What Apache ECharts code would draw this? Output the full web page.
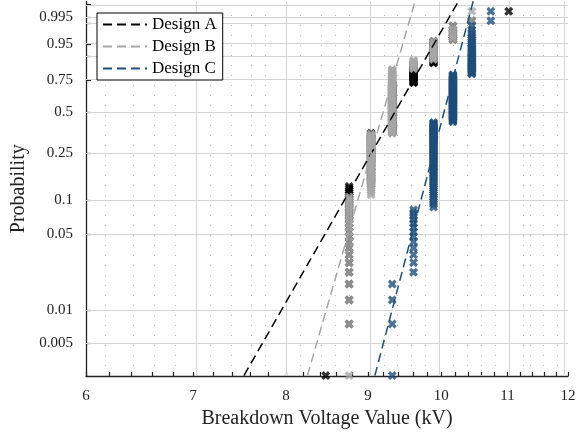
<!DOCTYPE html>
<html>
<head>
<meta charset="utf-8">
<script src="https://cdn.jsdelivr.net/npm/echarts@6/dist/echarts.min.js"></script>
<style>html,body{margin:0;padding:0;background:#fff}#c{width:587px;height:434px}</style>
</head>
<body>
<div id="c"></div>
<script>
// ---- data ----
// breakdown voltage levels (kV) and number of specimens failing at each level (n = 200 per design)
const designA_kV = [8.47, 8.76, 9.04, 9.32, 9.61, 9.89, 10.17, 10.45, 11.02];
const designA_count = [1, 26, 45, 73, 27, 20, 6, 1, 1];
const designB_kV = [8.76, 9.04, 9.32, 9.61, 9.89, 10.17, 10.45];
const designB_count = [22, 49, 94, 11, 16, 6, 2];
const designC_kV = [9.32, 9.61, 9.89, 10.17, 10.45, 10.74];
const designC_count = [4, 13, 69, 72, 40, 2];
// Weibull fit lines: voltage (kV) at the two probabilities in fitProb
const fitProb = [0.0025, 0.9994];
const fitA_kV = [7.53, 10.25];
const fitB_kV = [8.25, 9.63];
const fitC_kV = [9.09, 10.47];
// axis ticks
const xTickLabels = ['6', '7', '8', '9', '10', '11', '12'];
const xMinorTicks = [6.2, 6.4, 6.6, 6.8, 7.2, 7.4, 7.6, 7.8, 8.2, 8.4, 8.6, 8.8, 9.2, 9.4, 9.6, 9.8,
  10.2, 10.4, 10.6, 10.8, 11.2, 11.4, 11.6, 11.8];
const yTickProbs = [0.999, 0.995, 0.99, 0.95, 0.9, 0.75, 0.5, 0.25, 0.1, 0.05, 0.01, 0.005];
const yTickLabels = ['0.995', '0.95', '0.75', '0.5', '0.25', '0.1', '0.05', '0.01', '0.005'];

const colA = '#000000', colB = '#a6a6a6', colC = '#1f4e79';
const FONT = '"Liberation Serif", "DejaVu Serif", serif';

// ---- Weibull probability paper transforms ----
const wx = v => Math.log(v);
const wy = p => Math.log(-Math.log(1 - p));

function ecdf(kv, counts) {
  const n = counts.reduce((a, b) => a + b, 0);
  const pts = [];
  let i = 0;
  kv.forEach((v, k) => {
    for (let c = 0; c < counts[k]; c++) {
      i++;
      pts.push([wx(v), wy((i - 0.5) / n)]);
    }
  });
  return pts;
}
const fitLine = kv => kv.map((v, k) => [wx(v), wy(fitProb[k])]);

const xMajorVals = xTickLabels.map(s => wx(parseFloat(s)));
const xMinorVals = xMinorTicks.map(wx);
const yTickVals = yTickProbs.map(wy);
const yLabelVals = yTickLabels.map(s => wy(parseFloat(s)));

const crossPath = 'path://M0,2.6L2.6,0L5,2.4L7.4,0L10,2.6L7.6,5L10,7.4L7.4,10L5,7.6L2.6,10L0,7.4L2.4,5Z';

function scatter(name, data, color) {
  return {
    type: 'scatter', name: name, data: data, symbol: crossPath, symbolSize: 9,
    itemStyle: { color: color }, z: 3, silent: true
  };
}
function fit(name, data, color) {
  return {
    type: 'line', name: name, data: data, symbol: 'none', z: 4, silent: true,
    lineStyle: { color: color, width: 1.5, type: [9, 5] }, itemStyle: { color: color }
  };
}

const gridLines = [];
xMajorVals.slice(1).forEach(v => gridLines.push({ xAxis: v, lineStyle: { color: '#d4d4d4', width: 1, type: 'solid' } }));
xMinorVals.forEach(v => gridLines.push({ xAxis: v, lineStyle: { color: '#bdbdbd', width: 1, type: [1, 9] } }));
yTickVals.forEach(v => gridLines.push({ yAxis: v, lineStyle: { color: '#d4d4d4', width: 1, type: 'solid' } }));

const chart = echarts.init(document.getElementById('c'), null, { renderer: 'canvas' });
chart.setOption({
  animation: false,
  backgroundColor: '#ffffff',
  grid: { left: 86, right: 19, top: 1.5, bottom: 51, containLabel: false },
  legend: {
    data: ['Design A', 'Design B', 'Design C'],
    orient: 'vertical', left: 97, top: 13, z: 20,
    itemWidth: 44, itemHeight: 12, itemGap: 5,
    itemStyle: { opacity: 0 },
    backgroundColor: '#ffffff', borderColor: '#000000', borderWidth: 1, borderRadius: 0,
    padding: [3, 6, 3, 5],
    textStyle: { fontFamily: FONT, fontSize: 17, color: '#000' },
    selectedMode: false
  },
  xAxis: {
    type: 'value', min: wx(6), max: wx(12),
    name: 'Breakdown Voltage Value (kV)', nameLocation: 'middle', nameGap: 33,
    nameTextStyle: { fontFamily: FONT, fontSize: 20, color: '#222' },
    axisLine: { show: true, onZero: false, lineStyle: { color: '#222', width: 1.3 } },
    axisTick: { show: true, inside: true, length: 4, customValues: xMajorVals.concat(xMinorVals), lineStyle: { color: '#222', width: 1.2 } },
    axisLabel: {
      customValues: xMajorVals, margin: 13, fontFamily: FONT, fontSize: 15, color: '#222',
      formatter: v => { const k = xMajorVals.findIndex(t => Math.abs(t - v) < 1e-6); return k >= 0 ? xTickLabels[k] : ''; }
    },
    splitLine: { show: false }
  },
  yAxis: {
    type: 'value', min: -6, max: 2,
    name: 'Probability', nameLocation: 'middle', nameGap: 50, nameRotate: 90,
    nameTextStyle: { fontFamily: FONT, fontSize: 20, color: '#222' },
    axisLine: { show: true, onZero: false, lineStyle: { color: '#222', width: 1.3 } },
    axisTick: { show: true, inside: true, length: 5, customValues: yTickVals, lineStyle: { color: '#222', width: 1.2 } },
    axisLabel: {
      customValues: yLabelVals, margin: 13, fontFamily: FONT, fontSize: 15, color: '#222',
      formatter: v => { const k = yLabelVals.findIndex(t => Math.abs(t - v) < 1e-6); return k >= 0 ? yTickLabels[k] : ''; }
    },
    splitLine: { show: false }
  },
  series: [
    {
      type: 'line', name: 'grid', data: [], silent: true, z: 1,
      markLine: { silent: true, z: 1, symbol: ['none', 'none'], label: { show: false }, animation: false, data: gridLines }
    },
    scatter('A points', ecdf(designA_kV, designA_count), colA),
    scatter('B points', ecdf(designB_kV, designB_count), colB),
    scatter('C points', ecdf(designC_kV, designC_count), colC),
    fit('Design A', fitLine(fitA_kV), colA),
    fit('Design B', fitLine(fitB_kV), colB),
    fit('Design C', fitLine(fitC_kV), colC)
  ]
});
</script>
</body>
</html>
